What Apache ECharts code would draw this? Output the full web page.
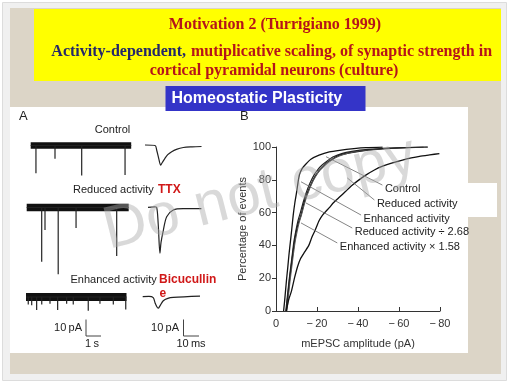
<!DOCTYPE html>
<html><head><meta charset="utf-8">
<script src="https://cdn.jsdelivr.net/npm/echarts/dist/echarts.min.js"></script>
<style>html,body{margin:0;padding:0;background:#fff}#c{width:512px;height:384px}</style>
</head><body><div id="c"></div>
<script>
// ---------- Panel B data (cumulative mEPSC amplitude distributions) ----------
const xTicks = [0, -20, -40, -60, -80];
const yTicks = [0, 20, 40, 60, 80, 100];
const enhancedCurve = [[-3.7,0],[-4.2,6],[-4.7,13],[-5.2,20],[-5.7,26],[-6.3,34],[-7,42],[-7.7,50],[-8.4,58.5],[-9.2,66],[-10,72],[-10.7,78],[-11.4,83],[-12.8,87],[-14.5,89.5],[-17,92.5],[-21,95],[-26,97],[-31,98],[-38,99],[-44,99.6],[-52,99.9]];
const controlCurve = [[-5,0],[-5.5,6],[-6,12],[-6.6,19],[-7.3,26],[-8,33],[-9,42],[-10,49],[-11,54],[-12.2,58.5],[-13.5,65],[-15,71],[-17,77],[-19,82],[-21,85.5],[-22.6,87.5],[-25,90.5],[-28,93],[-31,95],[-36,96.5],[-44,98],[-52,98.9],[-60,99.5],[-68,99.8],[-74,100]];
const reducedScaledCurve = [[-5.3,0],[-5.8,6],[-6.3,12],[-6.9,19],[-7.6,26],[-8.3,33],[-9.3,42],[-10.2,48],[-11.3,54],[-12.5,59],[-13.8,65],[-15.3,71],[-17.2,77],[-19.3,82],[-21.5,86],[-23.5,88.5],[-26,91],[-29,93.5],[-33,95.5],[-38,97],[-46,98.3],[-55,99.2],[-65,99.7],[-74,100]];
const enhancedScaledCurve = [[-4.8,0],[-5.3,6],[-5.9,13],[-6.5,20],[-7.1,26],[-7.8,33],[-8.7,42],[-9.7,49],[-10.7,55],[-11.9,60],[-13.2,66],[-14.7,72],[-16.6,78],[-18.6,83],[-20.6,86.5],[-22.5,89],[-25,91.5],[-28,94],[-32,96],[-37,97.3],[-45,98.5],[-55,99.3],[-65,99.7],[-72,100]];
const reducedCurve = [[-5,0],[-5.5,3],[-6.2,7],[-7.5,12],[-9,20],[-10.5,27],[-12,32],[-14,36],[-16,40],[-17.5,45],[-19,49],[-21,55],[-22.7,58.5],[-24.5,61],[-26,63],[-28,66],[-31,69.5],[-34,73],[-37,76.5],[-40,79.5],[-44,83],[-48,86],[-52,88.3],[-56,90],[-61.7,92],[-66,93.3],[-70,94.3],[-75,95.2],[-79.7,96]];
const curveLabels = ['Control', 'Reduced activity', 'Enhanced activity', 'Reduced activity \u00F7 2.68', 'Enhanced activity \u00D7 1.58'];
const leaderStarts = [[-24.4,94.1],[-34.8,81.1],[-12.2,78.8],[-14.6,65.9],[-12.2,53.7]];
const leaderEnds = [[-51.9,76.8],[-48,67.7],[-41.5,58.5],[-37.2,50.6],[-29.9,41.5]];

// ---------- Panel A data (recordings) ----------
// long traces: spike times (s) and amplitudes (pA, downward)
const controlSpikeTimes = [0.35, 1.62, 3.4, 6.29];
const controlSpikeAmps  = [16.6, 8, 18, 17.7];
const reducedSpikeTimes = [1.0, 1.22, 2.1, 3.29, 6.0];
const reducedSpikeAmps  = [32.5, 13.5, 40, 12.3, 29];
const enhancedSpikeTimes = [0.15, 0.38, 0.71, 1.05, 1.6, 2.11, 2.71, 3.15, 4.15, 4.93, 5.82, 6.65];
const enhancedSpikeAmps  = [4.5, 5, 7.8, 4.5, 4, 7.8, 4, 4.5, 8.2, 4, 4.5, 7.5];
// averaged mEPSCs: [ms, pA]
const controlAvg = [[0,0.3],[6.4,0],[7.5,-3],[8.8,-8],[10,-11.7],[11,-10.2],[12.7,-7.7],[14.5,-5.5],[17,-3.7],[20,-2.3],[24.4,-1.2],[30,-0.8],[36,-0.6]];
const reducedAvg = [[0,0],[4,0.3],[5.5,0],[6.5,-10],[7.6,-27.5],[8.3,-21],[9.8,-13.6],[11.9,-5.6],[16.1,-1.6],[22.4,-0.8],[34,-0.8]];
const enhancedAvg = [[0,0],[4,0.2],[6.7,-0.5],[8,-4],[9.9,-6.9],[11,-5.5],[13.1,-2.4],[16,-1],[19.5,-0.4],[36.5,0.4]];

// ---------- build ----------
const chart = echarts.init(document.getElementById('c'), null, {renderer:'canvas'});
const FONT = '"Liberation Sans", Arial, sans-serif';

function traceData(times, amps, xMax) {
  const d = [[0, 0]];
  times.forEach((t, i) => { d.push([t, 0], [t, -amps[i]], [t, 0]); });
  d.push([xMax, 0]);
  return d;
}
function grid(left, baseY, xMax, yMin, yMax, pxX, pxY) {
  return {left: left, top: baseY - yMax * pxY, width: xMax * pxX, height: (yMax - yMin) * pxY};
}
const pxS = 15, pxPA = 1.67, pxMS = 1.57;
const traceGrids = [
  {g: grid(30.7, 145.5, 6.7, -22, 5, pxS, pxPA), xMax: 6.7, yMin: -22, yMax: 5},
  {g: grid(26.7, 207.5, 6.8, -45, 5, pxS, pxPA), xMax: 6.8, yMin: -45, yMax: 5},
  {g: grid(26, 297, 6.7, -12, 5, pxS, pxPA), xMax: 6.7, yMin: -12, yMax: 5},
  {g: grid(145, 145.5, 36, -15, 3, pxMS, pxPA), xMax: 36, yMin: -15, yMax: 3},
  {g: grid(148, 207.3, 34, -30, 3, pxMS, pxPA), xMax: 34, yMin: -30, yMax: 3},
  {g: grid(142.7, 296.7, 36.5, -10, 3, pxMS, pxPA), xMax: 36.5, yMin: -10, yMax: 3}
];

const grids = [{left: 276, top: 147, width: 164, height: 164}];
const xAxes = [{
  gridIndex: 0, type: 'value', min: -80, max: 0, interval: 20, inverse: true,
  axisLine: {lineStyle: {color: '#333', width: 1}},
  axisTick: {inside: true, length: 4, lineStyle: {color: '#333'}},
  splitLine: {show: false},
  axisLabel: {color: '#333', fontSize: 11, fontFamily: FONT, margin: 7,
    formatter: v => xTicks.indexOf(v) < 0 ? '' : (v === 0 ? '0' : '\u2212\u2009' + Math.abs(v))},
  name: 'mEPSC amplitude (pA)', nameLocation: 'middle', nameGap: 27,
  nameTextStyle: {color: '#333', fontSize: 11, fontFamily: FONT}
}];
const yAxes = [{
  gridIndex: 0, type: 'value', min: 0, max: 100, interval: 20,
  axisLine: {show: true, lineStyle: {color: '#333', width: 1}},
  axisTick: {show: true, length: 4, lineStyle: {color: '#333'}},
  splitLine: {show: false},
  axisLabel: {color: '#333', fontSize: 11, fontFamily: FONT, margin: 5,
    formatter: v => yTicks.indexOf(v) < 0 ? '' : String(v)},
  name: 'Percentage of events', nameLocation: 'middle', nameGap: 24,
  nameTextStyle: {color: '#333', fontSize: 11, fontFamily: FONT}
}];
traceGrids.forEach((t, i) => {
  grids.push(t.g);
  xAxes.push({gridIndex: i + 1, type: 'value', min: 0, max: t.xMax, show: false});
  yAxes.push({gridIndex: i + 1, type: 'value', min: t.yMin, max: t.yMax, show: false});
});

const series = [];
function curve(data, w, color) {
  series.push({type: 'line', xAxisIndex: 0, yAxisIndex: 0, data: data, showSymbol: false,
    smooth: 0.2, lineStyle: {color: color, width: w}, silent: true, z: 3});
}
curve(enhancedCurve, 1.3, '#111');
curve(controlCurve, 1.3, '#111');
curve(reducedScaledCurve, 1.1, '#555');
curve(enhancedScaledCurve, 1.2, '#222');
curve(reducedCurve, 1.3, '#111');
series[series.length - 1].markLine = {
  silent: true, symbol: ['none', 'none'],
  lineStyle: {type: 'solid', color: '#666', width: 0.8},
  label: {show: false},
  data: leaderStarts.map((s, i) => [{coord: s}, {coord: leaderEnds[i]}])
};
series[series.length - 1].markPoint = {
  silent: true, symbol: 'circle', symbolSize: 1, itemStyle: {color: 'rgba(0,0,0,0)'},
  label: {show: true, position: 'right', distance: 2, offset: [0, 4], color: '#222', fontSize: 11, fontFamily: FONT,
    formatter: p => p.name},
  data: leaderEnds.map((e, i) => ({name: curveLabels[i], coord: e}))
};

const longTraces = [[controlSpikeTimes, controlSpikeAmps, 6.5], [reducedSpikeTimes, reducedSpikeAmps, 7.5], [enhancedSpikeTimes, enhancedSpikeAmps, 8]];
longTraces.forEach((lt, i) => {
  const xMax = traceGrids[i].xMax;
  series.push({type: 'line', xAxisIndex: i + 1, yAxisIndex: i + 1, data: [[0, 0], [xMax, 0]], showSymbol: false,
    lineStyle: {color: '#111', width: lt[2], cap: 'butt'}, silent: true});
  series.push({type: 'line', xAxisIndex: i + 1, yAxisIndex: i + 1, data: traceData(lt[0], lt[1], xMax), showSymbol: false,
    lineStyle: {color: '#222', width: 1.2}, silent: true});
});
[controlAvg, reducedAvg, enhancedAvg].forEach((d, i) => {
  series.push({type: 'line', xAxisIndex: i + 4, yAxisIndex: i + 4, data: d, showSymbol: false, smooth: 0.3,
    lineStyle: {color: '#222', width: 1.2}, silent: true});
});

const txt = (x, y, text, font, fill, align, extra) => Object.assign({type: 'text', x: x, y: y, z: 5, silent: true,
  style: {text: text, font: font, fill: fill, textAlign: align || 'left', textVerticalAlign: 'middle'}}, extra || {});
const SER = 'bold 16px "Liberation Serif", "Times New Roman", serif';
const RED = '#b5141a';
const A11 = '11px ' + FONT;
const graphic = [
  {type: 'rect', z: -10, shape: {x: 2.5, y: 2.5, width: 504, height: 378}, style: {fill: '#f0f0f0', stroke: '#dcdcdc'}},
  {type: 'rect', z: -9, shape: {x: 10, y: 8, width: 491, height: 366}, style: {fill: '#dcd5c7'}},
  {type: 'rect', z: -8, shape: {x: 34, y: 9, width: 467, height: 72}, style: {fill: '#ffff00'}},
  {type: 'rect', z: -8, shape: {x: 10, y: 107, width: 458, height: 246}, style: {fill: '#ffffff'}},
  {type: 'rect', z: -8, shape: {x: 468, y: 183, width: 29, height: 34}, style: {fill: '#ffffff'}},
  {type: 'rect', z: -7, shape: {x: 165.5, y: 86, width: 200, height: 25}, style: {fill: '#3434c8'}},
  txt(275, 24.5, 'Motivation 2 (Turrigiano 1999)', SER, RED, 'center'),
  txt(186, 51.5, 'Activity-dependent,', SER, '#24286a', 'right'),
  txt(191, 51.5, 'mutiplicative scaling, of synaptic strength in', SER, RED, 'left'),
  txt(274, 71, 'cortical pyramidal neurons (culture)', SER, RED, 'center'),
  txt(171.5, 99, 'Homeostatic Plasticity', 'bold 16px ' + FONT, '#ffffff', 'left'),
  txt(19, 116.5, 'A', '13px ' + FONT, '#222', 'left'),
  txt(240, 116.5, 'B', '13px ' + FONT, '#222', 'left'),
  txt(112.5, 130, 'Control', A11, '#222', 'center'),
  txt(73, 190, 'Reduced activity', A11, '#222', 'left'),
  txt(158, 190, 'TTX', 'bold 12px ' + FONT, '#d01818', 'left'),
  txt(70.5, 280, 'Enhanced activity', A11, '#222', 'left'),
  txt(159, 280, 'Bicucullin', 'bold 12px ' + FONT, '#d01818', 'left'),
  txt(159.5, 294, 'e', 'bold 12px ' + FONT, '#d01818', 'left'),
  txt(82, 327.5, '10\u2009pA', A11, '#222', 'right'),
  txt(92, 344, '1\u2009s', A11, '#222', 'center'),
  txt(179, 327.5, '10\u2009pA', A11, '#222', 'right'),
  txt(191, 344, '10\u2009ms', A11, '#222', 'center'),
  {type: 'polyline', z: 5, silent: true, shape: {points: [[86, 319.5], [86, 336], [101, 336]]}, style: {stroke: '#444', lineWidth: 1, fill: null}},
  {type: 'polyline', z: 5, silent: true, shape: {points: [[183.5, 319.5], [183.5, 336], [199, 336]]}, style: {stroke: '#444', lineWidth: 1, fill: null}},
  {type: 'text', z: 50, silent: true, x: 260, y: 194, rotation: 0.245,
    style: {text: 'Do not copy', font: '60px ' + FONT, fill: 'rgba(170,170,170,0.45)', textAlign: 'center', textVerticalAlign: 'middle'}}
];

chart.setOption({
  animation: false,
  backgroundColor: '#ffffff',
  grid: grids, xAxis: xAxes, yAxis: yAxes, series: series, graphic: graphic
});
</script></body></html>
